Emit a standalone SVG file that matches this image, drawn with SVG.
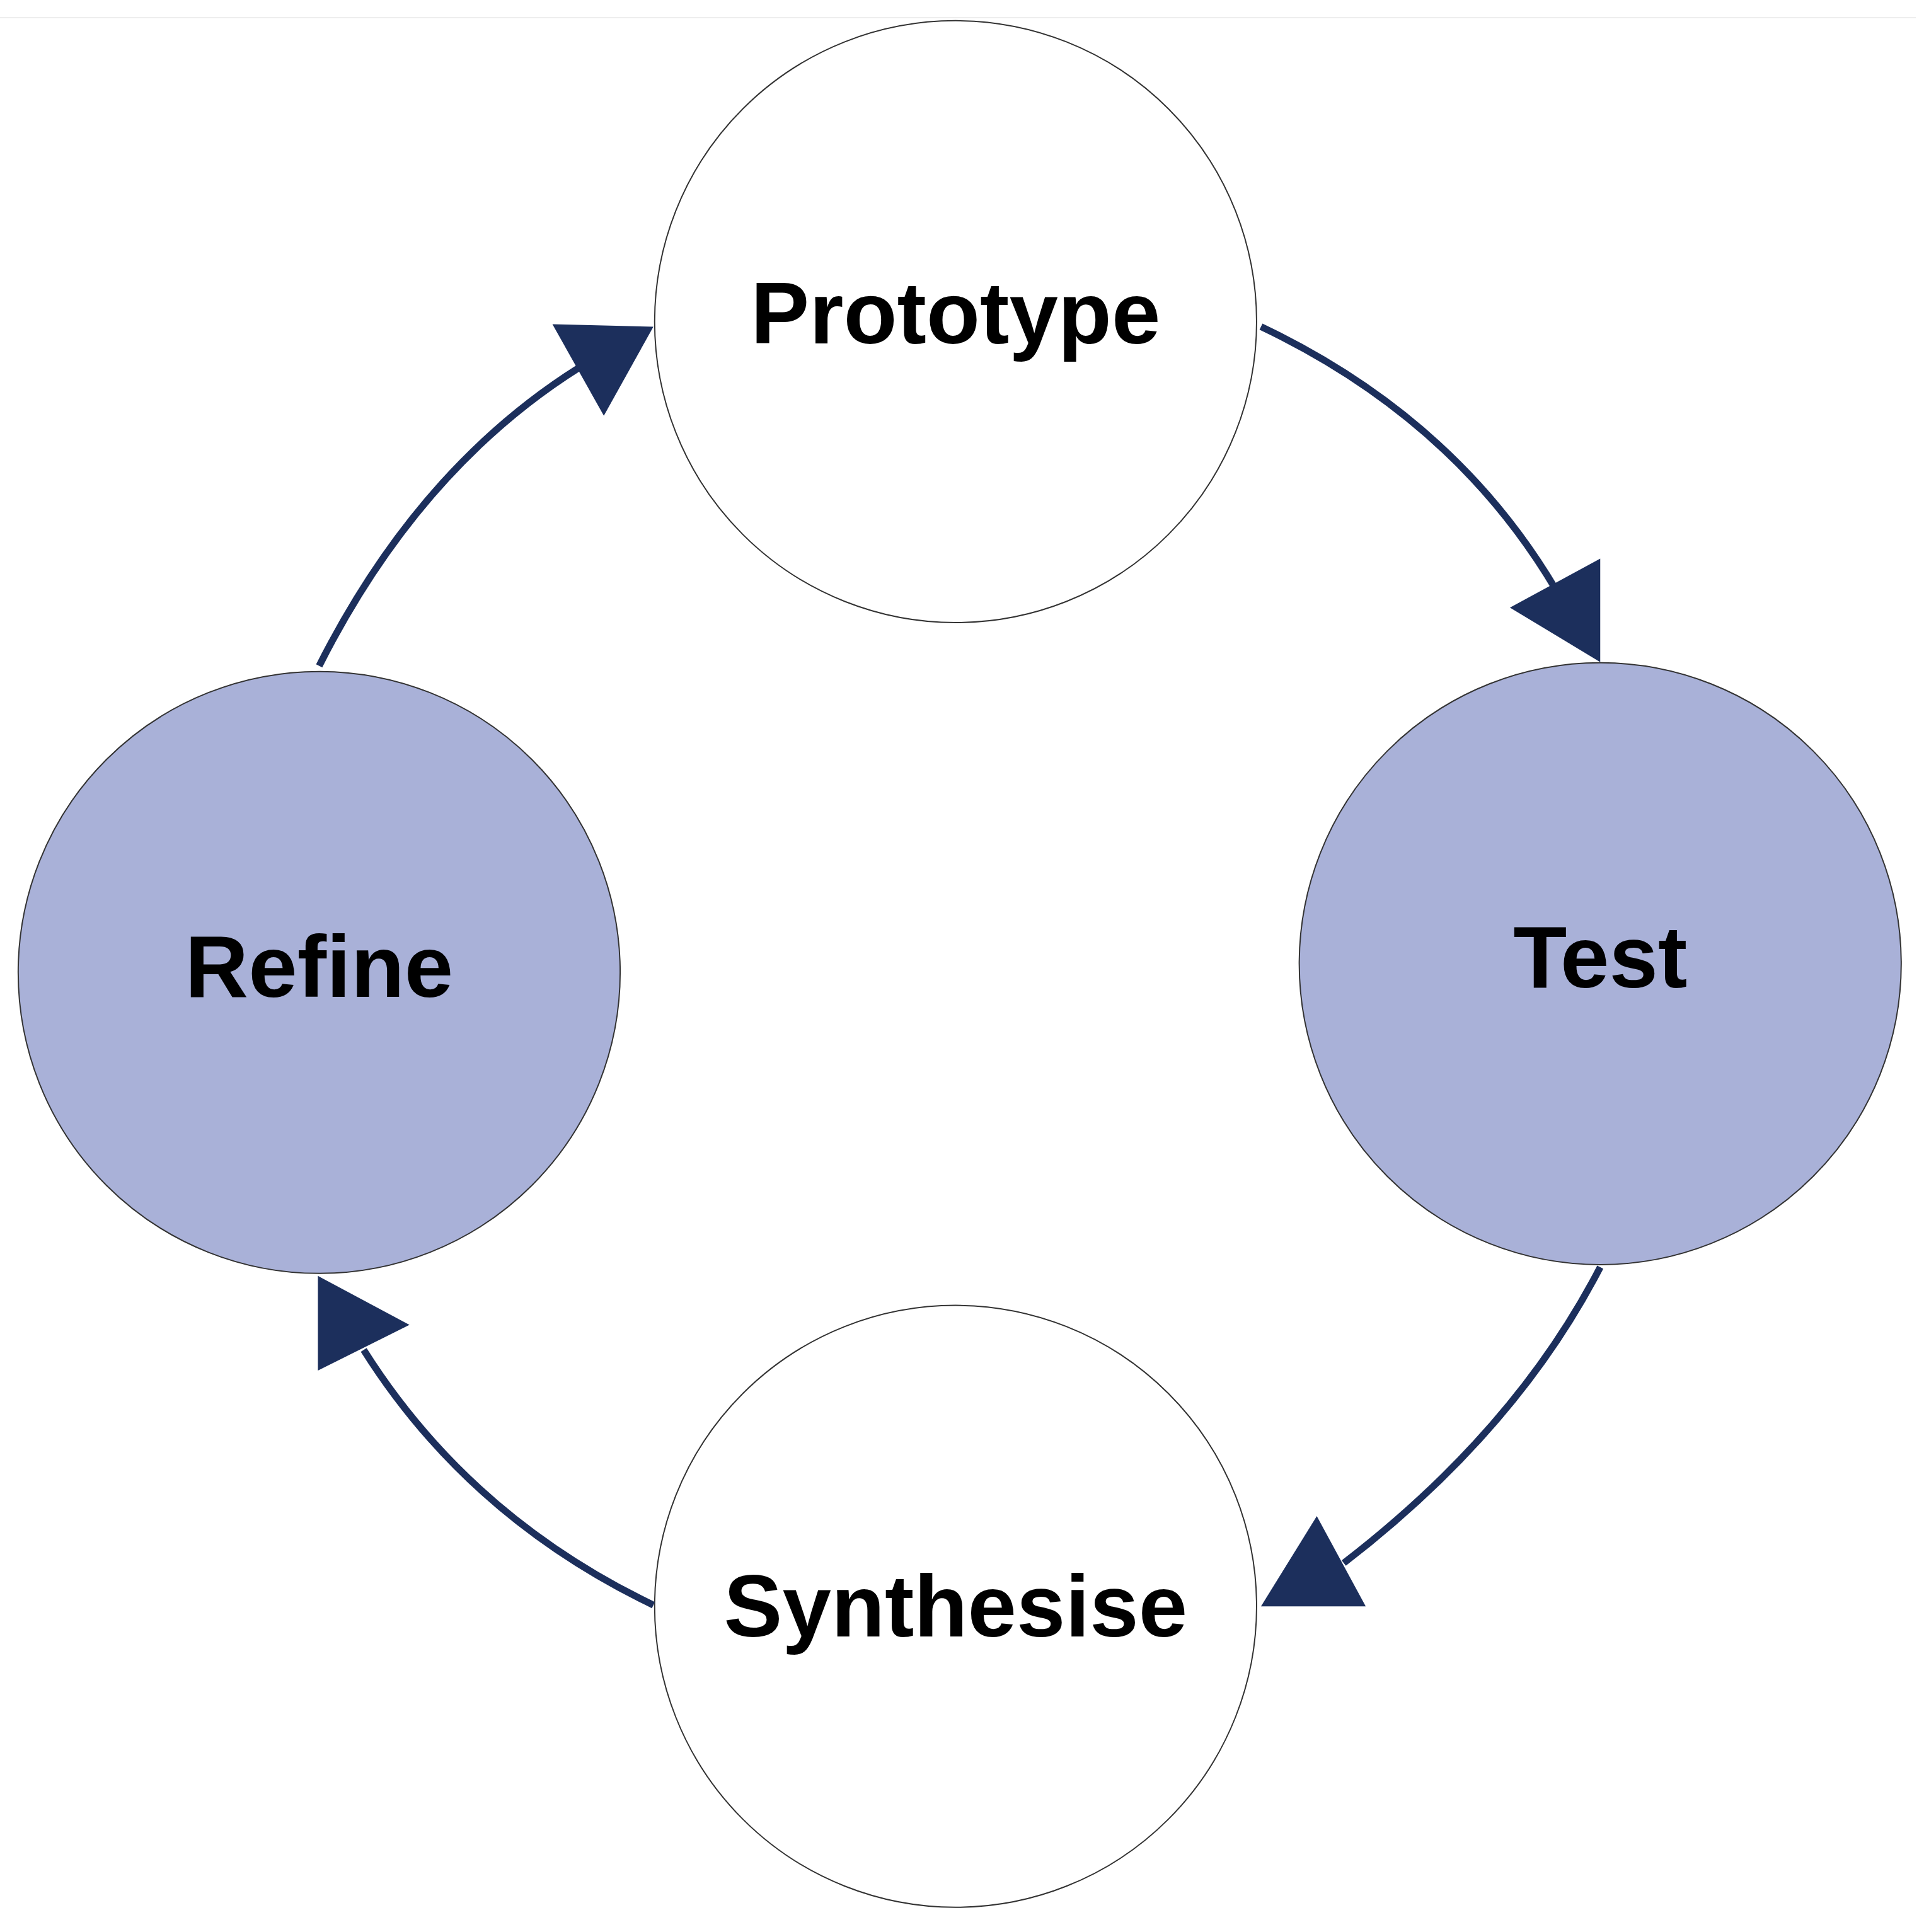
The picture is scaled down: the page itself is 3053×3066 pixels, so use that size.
<svg xmlns="http://www.w3.org/2000/svg" width="3053" height="3066" viewBox="0 0 3053 3066">
<style>
.n{stroke:#333;stroke-width:2}
.w{fill:#fff}.b{fill:#a9b1d8}
.t{font-family:"Liberation Sans",Arial,sans-serif;font-weight:bold;font-size:140px;text-anchor:middle;fill:#000}
.c{fill:none;stroke:#1c2f5c;stroke-width:11}
.h{fill:#1c2f5c}
</style>
<rect width="3053" height="3066" fill="#fff"/>
<line x1="0" y1="28" x2="3040" y2="28" stroke="#eee" stroke-width="2"/>
<g transform="scale(0.995)">
<g id="prototype"><circle class="n w" cx="1524" cy="513" r="480"/><text class="t" x="1524" y="548">Prototype</text></g>
<g id="test"><circle class="n b" cx="2552" cy="1537" r="480"/><text class="t" x="2552" y="1575">Test</text></g>
<g id="refine"><circle class="n b" cx="509" cy="1551" r="480"/><text class="t" x="509" y="1590">Refine</text></g>
<g id="synthesise"><circle class="n w" cx="1524" cy="2562" r="480"/><text class="t" x="1524" y="2610">Synthesise</text></g>
<g id="connectors">
<path class="c" d="M2011,521 Q2320,668 2481,940"/>
<polygon class="h" points="2552,891 2552,1056 2408,969"/>
<path class="c" d="M2552,2021 Q2418,2281 2143,2493"/>
<polygon class="h" points="2100,2418 2178,2562 2011,2562"/>
<path class="c" d="M1042,2560 Q747,2418 580,2153"/>
<polygon class="h" points="507,2035 507,2186 653,2113"/>
<path class="c" d="M509,1062 Q668,747 924,586"/>
<polygon class="h" points="881,517 1042,521 963,663"/>
</g>
</g>
</svg>
